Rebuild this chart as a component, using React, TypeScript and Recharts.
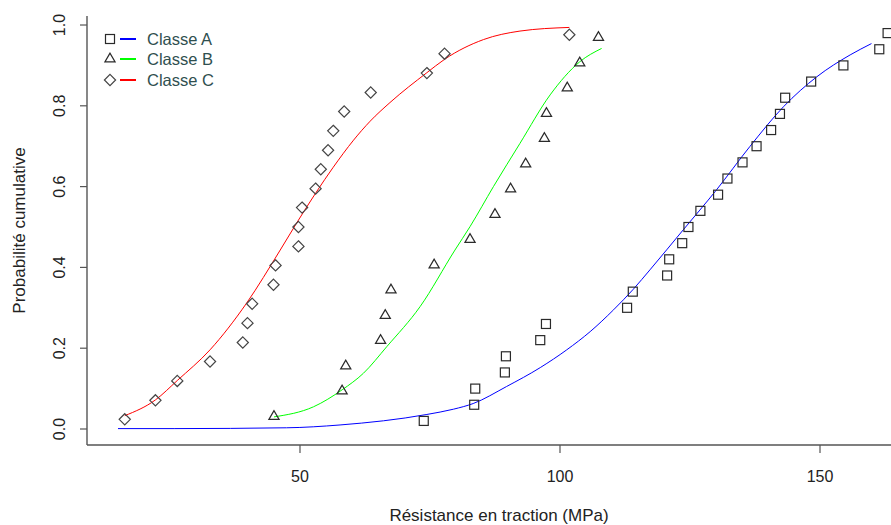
import React from "react";
import { ComposedChart, XAxis, YAxis, Scatter, Line, Legend } from "recharts";

// Observed points
const classAX = [73.8, 83.5, 83.7, 89.4, 89.6, 96.2, 97.3, 112.9, 114.0, 120.6, 121.0, 123.5, 124.7, 127.0, 130.4, 132.2, 135.1, 137.8, 140.6, 142.3, 143.3, 148.3, 154.5, 161.4, 163.0];
const classAY = [0.02, 0.06, 0.10, 0.14, 0.18, 0.22, 0.26, 0.30, 0.34, 0.38, 0.42, 0.46, 0.50, 0.54, 0.58, 0.62, 0.66, 0.70, 0.74, 0.78, 0.82, 0.86, 0.90, 0.94, 0.98];

const classBX = [45.0, 58.1, 58.8, 65.5, 66.4, 67.5, 75.8, 82.7, 87.5, 90.5, 93.4, 97.0, 97.4, 101.4, 103.8, 107.4];
const classBY = [0.031, 0.094, 0.156, 0.219, 0.281, 0.344, 0.406, 0.469, 0.531, 0.594, 0.656, 0.719, 0.781, 0.844, 0.906, 0.969];

const classCX = [16.3, 22.2, 26.4, 32.7, 39.0, 39.9, 40.8, 44.9, 45.3, 49.7, 49.7, 50.4, 53.0, 54.0, 55.4, 56.4, 58.5, 63.6, 74.4, 77.8, 101.8];
const classCY = [0.024, 0.071, 0.119, 0.167, 0.214, 0.262, 0.310, 0.357, 0.405, 0.452, 0.500, 0.548, 0.595, 0.643, 0.690, 0.738, 0.786, 0.833, 0.881, 0.929, 0.976];

// Fitted curves
const curveAX = [15.0, 25.8, 47.4, 57.7, 74.4, 79.5, 83.3, 89.7, 96.2, 101.3, 105.8, 110.3, 114.1, 117.3, 123.7, 130.1, 136.5, 143.0, 149.4, 155.8, 159.9];
const curveAY = [0.001, 0.001, 0.003, 0.010, 0.036, 0.049, 0.063, 0.105, 0.152, 0.196, 0.241, 0.295, 0.346, 0.394, 0.493, 0.592, 0.699, 0.798, 0.872, 0.926, 0.954];

const curveBX = [45.0, 52.6, 58.1, 62.2, 66.7, 73.1, 79.8, 82.7, 87.2, 92.3, 98.1, 103.8, 108.0];
const curveBY = [0.030, 0.055, 0.097, 0.138, 0.204, 0.303, 0.443, 0.501, 0.600, 0.707, 0.827, 0.909, 0.942];

const curveCX = [16.3, 22.2, 26.4, 32.7, 39.7, 46.2, 49.7, 56.4, 60.3, 63.5, 67.3, 74.4, 77.8, 85.3, 92.3, 101.8];
const curveCY = [0.033, 0.072, 0.120, 0.196, 0.311, 0.443, 0.517, 0.648, 0.715, 0.762, 0.808, 0.882, 0.915, 0.964, 0.985, 0.994];

const xTicks = [50, 100, 150];
const yTicks = [0, 0.2, 0.4, 0.6, 0.8, 1.0];
const legendLabels = ["Classe A", "Classe B", "Classe C"];
const legendColors = ["#0000FF", "#00FF00", "#FF0000"];
const legendShapes = ["square", "triangle", "diamond"];

const zip = (xs: number[], ys: number[]) => xs.map((x, i) => ({ x, y: ys[i] }));
const dataA = zip(classAX, classAY);
const dataB = zip(classBX, classBY);
const dataC = zip(classCX, classCY);
const lineA = zip(curveAX, curveAY);
const lineB = zip(curveBX, curveBY);
const lineC = zip(curveCX, curveCY);

const FONT = "'Liberation Sans', Arial, sans-serif";
const MARK = "#2a2a2a";
const AXIS = "#555";

function Marker({ kind, cx, cy }: { kind: string; cx: number; cy: number }) {
  if (kind === "square") {
    return <rect x={cx - 4.5} y={cy - 4.5} width={9} height={9} fill="none" stroke={MARK} strokeWidth={1.2} />;
  }
  if (kind === "triangle") {
    const h = 8.8;
    const w = 10.2;
    const pts = `${cx},${cy - (2 * h) / 3} ${cx - w / 2},${cy + h / 3} ${cx + w / 2},${cy + h / 3}`;
    return <polygon points={pts} fill="none" stroke={MARK} strokeWidth={1.2} />;
  }
  const r = 5.6;
  const pts = `${cx},${cy - r} ${cx + r},${cy} ${cx},${cy + r} ${cx - r},${cy}`;
  return <polygon points={pts} fill="none" stroke="#444" strokeWidth={1.2} />;
}

const shapeFor = (kind: string) => (props: any) => <Marker kind={kind} cx={props.cx} cy={props.cy} />;

const XTick = (props: any) => (
  <text x={props.x} y={props.y + 29} textAnchor="middle" fontSize={16} fill="#222" fontFamily={FONT}>
    {props.payload.value}
  </text>
);

const YTick = (props: any) => {
  const bx = props.x - 15;
  return (
    <text
      x={bx}
      y={props.y}
      transform={`rotate(-90, ${bx}, ${props.y})`}
      textAnchor="middle"
      fontSize={16}
      fill="#222"
      fontFamily={FONT}
    >
      {Number(props.payload.value).toFixed(1)}
    </text>
  );
};

const renderLegend = () => (
  <div style={{ fontFamily: FONT, fontSize: 16.5, color: "#2F4F4F" }}>
    {legendLabels.map((lab, i) => (
      <div key={lab} style={{ display: "flex", alignItems: "center", height: 20.3 }}>
        <svg width={47} height={20} style={{ display: "block" }}>
          <Marker kind={legendShapes[i]} cx={10} cy={10} />
          <line x1={20} x2={36} y1={10} y2={10} stroke={legendColors[i]} strokeWidth={2} />
        </svg>
        <span style={{ lineHeight: "20px", whiteSpace: "nowrap" }}>{lab}</span>
      </div>
    ))}
  </div>
);

export default function App() {
  return (
    <div style={{ position: "fixed", left: 0, top: 0, width: 891, height: 525, overflow: "hidden", background: "#fff" }}>
      <ComposedChart width={930} height={525} margin={{ top: 16, right: 19, bottom: 0, left: 0 }}>
        <XAxis
          type="number"
          dataKey="x"
          domain={[9.04, 167.5]}
          ticks={xTicks}
          allowDataOverflow
          height={80}
          tickSize={8}
          tickMargin={0}
          tick={XTick}
          stroke={AXIS}
          strokeWidth={1.4}
          tickLine={{ stroke: AXIS, strokeWidth: 1.2 }}
          label={{
            content: (p: any) => {
              const vb = p.viewBox || {};
              return (
                <text x={vb.x + vb.width / 2} y={vb.y + 76} textAnchor="middle" fontSize={17} fill="#222" fontFamily={FONT}>
                  Résistance en traction (MPa)
                </text>
              );
            },
          }}
        />
        <XAxis
          xAxisId="top"
          orientation="top"
          type="number"
          dataKey="x"
          domain={[9.04, 167.5]}
          allowDataOverflow
          height={0}
          tick={false}
          tickLine={false}
          stroke={AXIS}
          strokeWidth={1.4}
        />
        <YAxis
          type="number"
          dataKey="y"
          domain={[-0.0396, 1.0223]}
          ticks={yTicks}
          allowDataOverflow
          width={87}
          tickSize={7}
          tickMargin={0}
          tick={YTick}
          stroke={AXIS}
          strokeWidth={1.4}
          tickLine={{ stroke: AXIS, strokeWidth: 1.2 }}
          label={{
            content: (p: any) => {
              const vb = p.viewBox || {};
              const cy = vb.y + vb.height / 2;
              return (
                <text x={25} y={cy} transform={`rotate(-90, 25, ${cy})`} textAnchor="middle" fontSize={17} fill="#222" fontFamily={FONT}>
                  Probabilité cumulative
                </text>
              );
            },
          }}
        />
        <Line data={lineA} dataKey="y" type="monotone" stroke="#0000FF" strokeWidth={1} dot={false} isAnimationActive={false} />
        <Line data={lineB} dataKey="y" type="monotone" stroke="#00FF00" strokeWidth={1} dot={false} isAnimationActive={false} />
        <Line data={lineC} dataKey="y" type="monotone" stroke="#FF0000" strokeWidth={1} dot={false} isAnimationActive={false} />
        <Scatter data={dataA} dataKey="y" shape={shapeFor("square")} isAnimationActive={false} />
        <Scatter data={dataB} dataKey="y" shape={shapeFor("triangle")} isAnimationActive={false} />
        <Scatter data={dataC} dataKey="y" shape={shapeFor("diamond")} isAnimationActive={false} />
        <Legend
          layout="horizontal"
          align="center"
          verticalAlign="middle"
          content={renderLegend}
          wrapperStyle={{ position: "absolute", left: 100, top: 29, width: 200, height: 62, margin: 0, padding: 0 }}
        />
      </ComposedChart>
    </div>
  );
}
